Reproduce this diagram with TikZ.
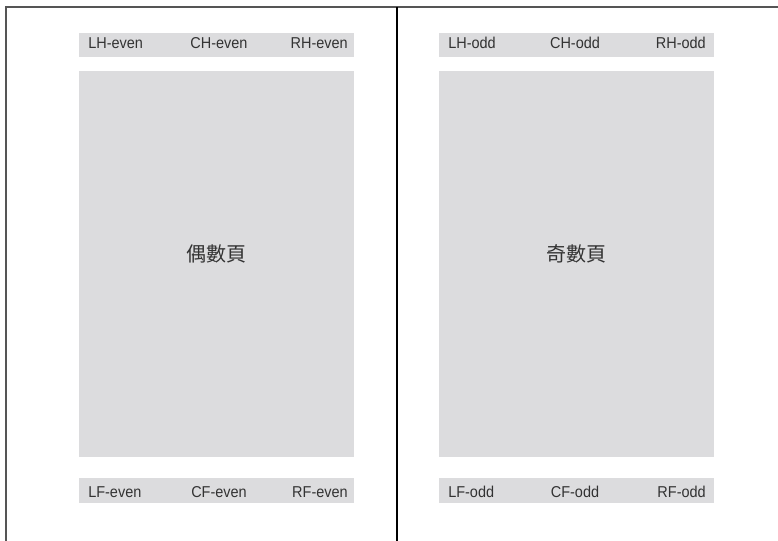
\documentclass[tikz,border=0pt]{standalone}
\usepackage{fontspec}
\setmainfont{Liberation Sans}
\newfontfamily\narrowfont[FakeStretch=0.92]{Liberation Sans}
\newfontfamily\cjk{Noto Sans CJK TC}
\definecolor{boxgray}{HTML}{DCDCDE}
\definecolor{txtgray}{HTML}{333333}
\definecolor{framegray}{HTML}{555555}
\begin{document}
\begin{tikzpicture}[x=0.75pt,y=-0.75pt,
  graybox/.style={fill=boxgray,draw=none},
  lbl/.style={inner sep=0pt,text=txtgray,font=\narrowfont\fontsize{11.8pt}{13pt}\selectfont},
  big/.style={inner sep=0pt,text=txtgray,font=\cjk\fontsize{15pt}{17pt}\selectfont},
  frameline/.style={line width=0.9pt,draw=framegray}]
\useasboundingbox (0,0) rectangle (778,541);
% frame
\coordinate (tl) at (6,7);
\coordinate (tr) at (778,7);
\coordinate (bl) at (6,541);
\coordinate (mt) at (397,7);
\coordinate (mb) at (397,541);
\draw[frameline] (tr) -- (tl) -- (bl);
\draw[line width=0.9pt,black] (mt) -- (mb);
% even page
\path[graybox] (79,33) rectangle (354,57);
\path[graybox] (79,71) rectangle (354,457);
\path[graybox] (79,478) rectangle (354,503);
\node[lbl,anchor=base west] (lhe) at (88,49) {LH-even};
\node[lbl,anchor=base] (che) at (219,49) {CH-even};
\node[lbl,anchor=base east] (rhe) at (348,49) {RH-even};
\node[big] (even) at (216.5,254) {偶數頁};
\node[lbl,anchor=base west] (lfe) at (88,497) {LF-even};
\node[lbl,anchor=base] (cfe) at (219,497) {CF-even};
\node[lbl,anchor=base east] (rfe) at (348,497) {RF-even};
% odd page
\path[graybox] (439,33) rectangle (714,57);
\path[graybox] (439,71) rectangle (714,457);
\path[graybox] (439,478) rectangle (714,503);
\node[lbl,anchor=base west] (lho) at (448,49) {LH-odd};
\node[lbl,anchor=base] (cho) at (575,49) {CH-odd};
\node[lbl,anchor=base east] (rho) at (706,49) {RH-odd};
\node[big] (odd) at (576.5,254) {奇數頁};
\node[lbl,anchor=base west] (lfo) at (448,497) {LF-odd};
\node[lbl,anchor=base] (cfo) at (575,497) {CF-odd};
\node[lbl,anchor=base east] (rfo) at (706,497) {RF-odd};
\end{tikzpicture}
\end{document}
